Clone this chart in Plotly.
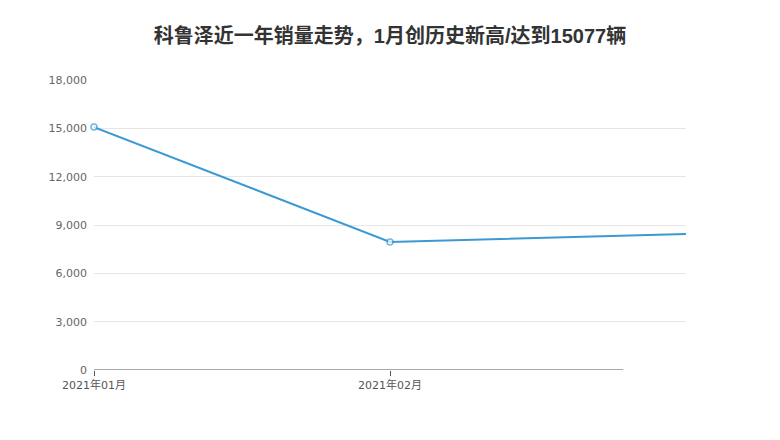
import plotly.graph_objects as go

# monthly sales
months = ['2021年01月', '2021年02月', '2021年03月']
sales = [15077, 7950, 8440]
tick_vals = [0, 3000, 6000, 9000, 12000, 15000, 18000]
tick_text = ['0', '3,000', '6,000', '9,000', '12,000', '15,000', '18,000']

x_pos = list(range(len(months)))

fig = go.Figure()

fig.add_trace(
    go.Scatter(
        x=x_pos,
        y=sales,
        mode='lines+markers',
        line=dict(color='#3b9ad2', width=2),
        # last point sits on the clipped edge, no marker there
        marker=dict(size=[6, 6, 0], color='white', line=dict(color='#3b9ad2', width=1.5)),
        cliponaxis=False,
        showlegend=False,
    )
)

# x axis baseline (stops short of the right edge like the original)
fig.add_shape(
    type='line', xref='paper', yref='y',
    x0=0, x1=0.894, y0=0, y1=0,
    line=dict(color='#555555', width=1.2),
)

fig.update_layout(
    width=764,
    height=424,
    margin=dict(l=86, r=86, t=72, b=62),
    paper_bgcolor='white',
    plot_bgcolor='white',
    font=dict(family='DejaVu Sans, Noto Sans CJK SC, sans-serif', color='#666666', size=11),
    title=dict(
        text='<b>科鲁泽近一年销量走势，1月创历史新高/达到15077辆</b>',
        x=0.5,
        y=0.935,
        xanchor='center',
        yanchor='middle',
        font=dict(size=20, color='#333333', family='Liberation Sans, Noto Sans CJK SC, sans-serif'),
    ),
)

fig.update_xaxes(
    range=[0, 2],
    tickmode='array',
    tickvals=x_pos[:2],
    ticktext=months[:2],
    ticks='outside',
    ticklen=5,
    tickcolor='#555555',
    showgrid=False,
    zeroline=False,
    showline=False,
    tickfont=dict(size=11, color='#555555'),
)

fig.update_yaxes(
    range=[0, 18000],
    tickmode='array',
    tickvals=tick_vals,
    ticktext=tick_text,
    showgrid=True,
    gridcolor='#e6e6e6',
    gridwidth=1,
    zeroline=False,
    showline=False,
    ticks='',
    ticklabelstandoff=6,
    tickfont=dict(size=11, color='#666666'),
)

fig.write_html('out.html')
